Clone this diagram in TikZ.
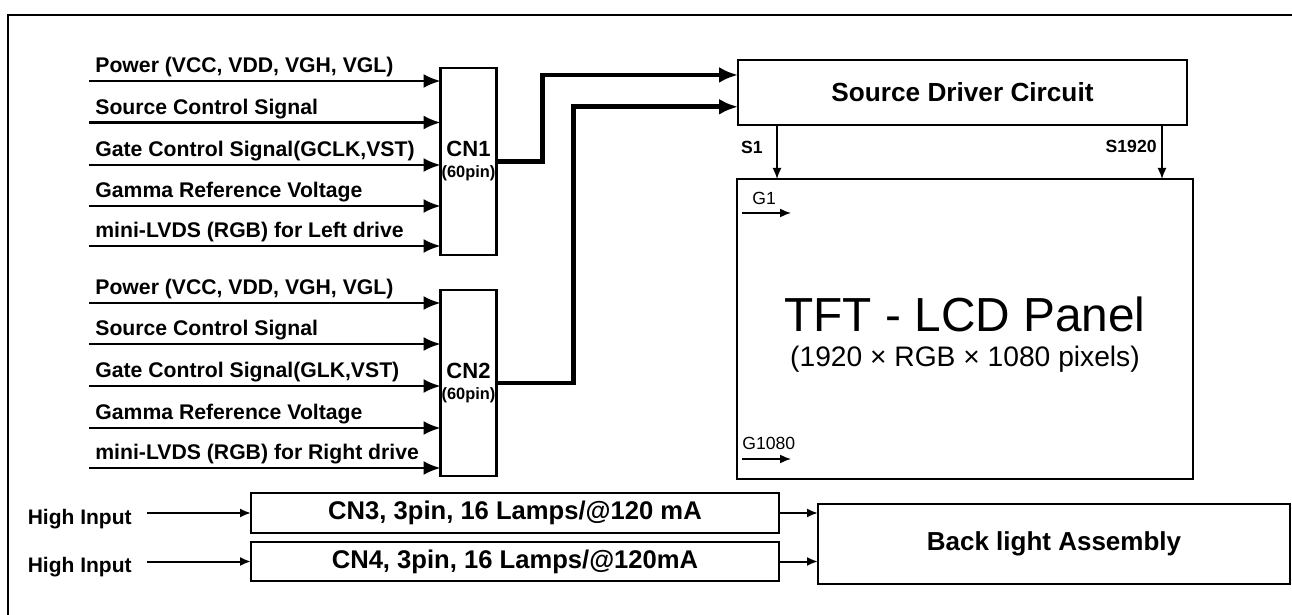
\documentclass[tikz,border=0pt]{standalone}
\usepackage{fontspec}
\setmainfont{Liberation Sans}
\usetikzlibrary{arrows.meta,positioning,calc}

\begin{document}
\begin{tikzpicture}[x=0.5pt,y=-0.5pt,>=Latex,
  box/.style={draw,line width=1.2pt,inner sep=0pt,outer sep=0pt},
  lbl/.style={font=\fontsize{10.6}{12}\selectfont\bfseries,inner sep=0pt},
  inarrow/.style={->,line width=1.1pt,>={Latex[length=8.5pt,width=7pt]}},
  thinarrow/.style={->,line width=1pt,>={Latex[length=5.5pt,width=4.5pt]}},
  bus/.style={->,line width=2.4pt,>={Latex[length=9.5pt,width=8pt]}},
  sig/.style={->,line width=0.8pt,>={Latex[length=5.5pt,width=4.5pt]}}]
  \useasboundingbox (0,0) rectangle (1292,615);
  % outer frame, cut off at right and bottom
  \draw[line width=1pt] (8,640) -- (8,15) -- (1310,15);

  % connectors and blocks
  \node[box,minimum width=28pt,minimum height=93.5pt,font=\bfseries,align=center] (cn1) at (468.5,161.5) {{\fontsize{11}{12}\selectfont CN1}\\[-1.5pt]{\fontsize{8.2}{9}\selectfont (60pin)}};
  \node[box,minimum width=28pt,minimum height=93pt,font=\bfseries,align=center] (cn2) at (468.5,383) {{\fontsize{11}{12}\selectfont CN2}\\[-1.5pt]{\fontsize{8.2}{9}\selectfont (60pin)}};
  \node[box,minimum width=224.5pt,minimum height=32.5pt,font=\fontsize{13.1}{15}\selectfont\bfseries] (src) at (962.5,92.5) {Source Driver Circuit};
  \node[box,minimum width=228pt,minimum height=150pt] (panel) at (965,329) {};
  \node[font=\fontsize{23.9}{26}\selectfont] (tft) at ($(panel.center)+(0,-15)$) {TFT - LCD Panel};
  \node[font=\fontsize{14.1}{16}\selectfont] (res) at ($(panel.center)+(0,30)$) {(1920 × RGB × 1080 pixels)};
  \node[box,minimum width=264pt,minimum height=20pt,font=\fontsize{12.8}{15}\selectfont\bfseries] (cn3) at (515,513) {CN3, 3pin, 16 Lamps/@120 mA};
  \node[box,minimum width=264pt,minimum height=19.5pt,font=\fontsize{12.8}{15}\selectfont\bfseries] (cn4) at (515,561.5) {CN4, 3pin, 16 Lamps/@120mA};
  \node[box,minimum width=236pt,minimum height=40pt,font=\fontsize{13}{15}\selectfont\bfseries] (bl) at (1054,544) {Back light Assembly};

  % inputs of CN1
  \coordinate (p1) at (89,81);
  \node[lbl,above right=1.8pt and 3pt of p1] (l1) {Power (VCC, VDD, VGH, VGL)};
  \draw[inarrow] (p1) -- (p1 -| cn1.west);
  \coordinate (p2) at (89,122.5);
  \node[lbl,above right=1.8pt and 3pt of p2] (l2) {Source Control Signal};
  \draw[inarrow] (p2) -- (p2 -| cn1.west);
  \coordinate (p3) at (89,165);
  \node[lbl,above right=1.8pt and 3pt of p3] (l3) {Gate Control Signal(GCLK,VST)};
  \draw[inarrow] (p3) -- (p3 -| cn1.west);
  \coordinate (p4) at (89,206);
  \node[lbl,above right=1.8pt and 3pt of p4] (l4) {Gamma Reference Voltage};
  \draw[inarrow] (p4) -- (p4 -| cn1.west);
  \coordinate (p5) at (89,246);
  \node[lbl,above right=1.8pt and 3pt of p5] (l5) {mini-LVDS (RGB) for Left drive};
  \draw[inarrow] (p5) -- (p5 -| cn1.west);

  % inputs of CN2
  \coordinate (q1) at (89,303);
  \node[lbl,above right=1.8pt and 3pt of q1] (m1) {Power (VCC, VDD, VGH, VGL)};
  \draw[inarrow] (q1) -- (q1 -| cn2.west);
  \coordinate (q2) at (89,344);
  \node[lbl,above right=1.8pt and 3pt of q2] (m2) {Source Control Signal};
  \draw[inarrow] (q2) -- (q2 -| cn2.west);
  \coordinate (q3) at (89,386);
  \node[lbl,above right=1.8pt and 3pt of q3] (m3) {Gate Control Signal(GLK,VST)};
  \draw[inarrow] (q3) -- (q3 -| cn2.west);
  \coordinate (q4) at (89,428);
  \node[lbl,above right=1.8pt and 3pt of q4] (m4) {Gamma Reference Voltage};
  \draw[inarrow] (q4) -- (q4 -| cn2.west);
  \coordinate (q5) at (89,468);
  \node[lbl,above right=1.8pt and 3pt of q5] (m5) {mini-LVDS (RGB) for Right drive};
  \draw[inarrow] (q5) -- (q5 -| cn2.west);

  % buses to the source driver
  \coordinate (srcin1) at ($(src.north west)!0.23!(src.south west)$);
  \coordinate (srcin2) at ($(src.north west)!0.72!(src.south west)$);
  \draw[bus] (cn1.east) -- ++(46,0) |- (srcin1);
  \draw[bus] (cn2.east) -- ++(77,0) |- (srcin2);

  % source and gate lines
  \coordinate (s1) at ($(src.south west)+(39,0)$);
  \coordinate (sn) at ($(src.south east)+(-25,0)$);
  \draw[sig] (s1) -- (s1 |- panel.north);
  \draw[sig] (sn) -- (sn |- panel.north);
  \node[font=\fontsize{8.8}{10}\selectfont\bfseries,inner sep=0pt,anchor=east] (s1l) at ($(s1)+(-14,22)$) {S1};
  \node[font=\fontsize{8.8}{10}\selectfont\bfseries,inner sep=0pt,anchor=east] (snl) at ($(sn)+(-5,21)$) {S1920};
  \coordinate (g1) at ($(panel.north west)+(5,34)$);
  \coordinate (g1e) at ($(g1)+(49,0)$);
  \coordinate (gn) at ($(panel.south west)+(5,-20)$);
  \coordinate (gne) at ($(gn)+(49,0)$);
  \draw[sig] (g1) -- (g1e);
  \draw[sig] (gn) -- (gne);
  \node[font=\fontsize{8.8}{10}\selectfont,inner sep=0pt,anchor=west] (g1l) at ($(g1)+(10,-15)$) {G1};
  \node[font=\fontsize{8.8}{10}\selectfont,inner sep=0pt,anchor=west] (gnl) at ($(gn)+(0,-16)$) {G1080};

  % backlight
  \coordinate (h1) at ($(cn3.west)+(-104,0)$);
  \coordinate (h2) at ($(cn4.west)+(-104,0)$);
  \node[font=\fontsize{10.5}{12}\selectfont\bfseries,inner sep=0pt,anchor=east] (hl1) at ($(h1)+(-15,6)$) {High Input};
  \node[font=\fontsize{10.5}{12}\selectfont\bfseries,inner sep=0pt,anchor=east] (hl2) at ($(h2)+(-15,6)$) {High Input};
  \draw[thinarrow] (h1) -- (cn3.west);
  \draw[thinarrow] (h2) -- (cn4.west);
  \draw[thinarrow] (cn3.east) -- (cn3.east -| bl.west);
  \draw[thinarrow] (cn4.east) -- (cn4.east -| bl.west);
\end{tikzpicture}
\end{document}
